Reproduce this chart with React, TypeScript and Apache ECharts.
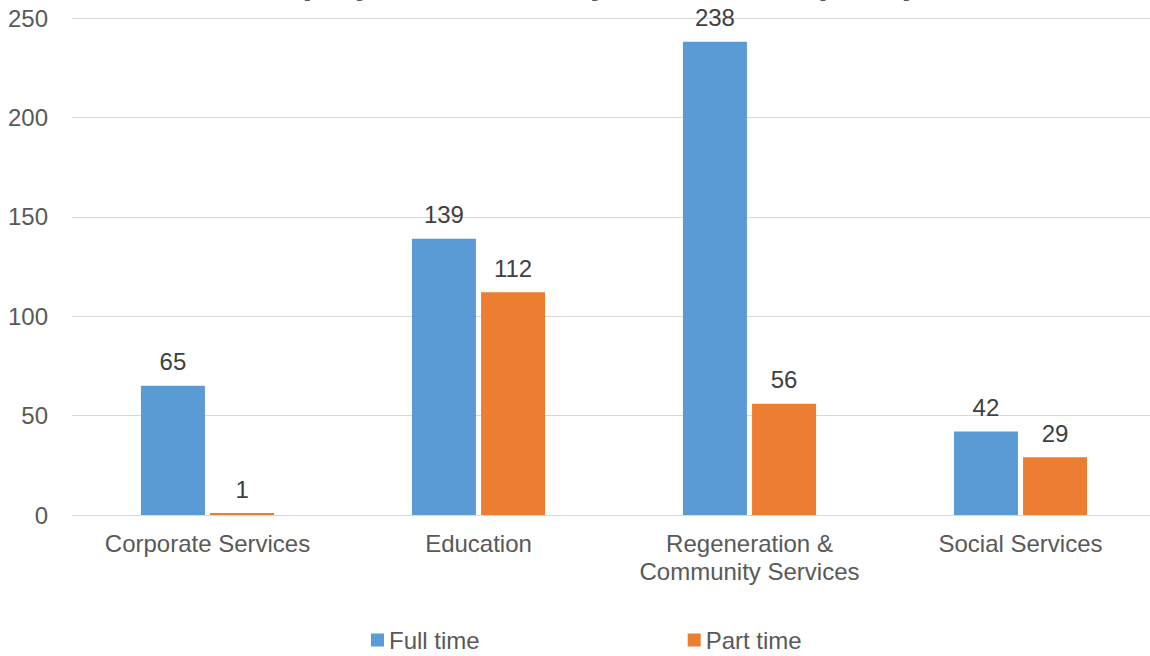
import React, { useEffect, useRef } from "react";
import * as echarts from "echarts";

const titleText = "Employees in Post by Directorate (2019)";
const categories = ["Corporate Services", "Education", "Regeneration &\nCommunity Services", "Social Services"];
const fullTime = [65, 139, 238, 42];
const partTime = [1, 112, 56, 29];
const seriesNames = ["Full time", "Part time"];
const yTicks = { min: 0, max: 250, interval: 50 };

const FONT = "'Liberation Sans', Arial, sans-serif";

export default function App() {
  const ref = useRef<HTMLDivElement>(null);
  useEffect(() => {
    if (!ref.current) return;
    const chart = echarts.init(ref.current, undefined, { renderer: "svg" });
    chart.setOption({
      animation: false,
      backgroundColor: "#ffffff",
      textStyle: { fontFamily: FONT },
      graphic: [
        {
          type: "text",
          left: 248,
          top: -36,
          style: {
            text: titleText,
            font: `bold 35px ${FONT}`,
            fill: "#595959",
          },
        },
      ],
      legend: {
        left: 371,
        top: 628,
        padding: 0,
        icon: "rect",
        itemWidth: 13,
        itemHeight: 13,
        itemGap: 208,
        textStyle: { fontSize: 24, color: "#595959", fontFamily: FONT },
        data: seriesNames,
      },
      grid: {
        left: 72,
        top: 18,
        width: 1084,
        height: 497,
        containLabel: false,
        outerBoundsMode: "none",
      },
      xAxis: {
        type: "category",
        data: categories,
        axisLine: { show: true, lineStyle: { color: "#D9D9D9", width: 1 } },
        axisTick: { show: false },
        axisLabel: {
          fontSize: 24,
          color: "#595959",
          fontFamily: FONT,
          margin: 14,
          lineHeight: 28,
          interval: 0,
        },
      },
      yAxis: {
        type: "value",
        min: yTicks.min,
        max: yTicks.max,
        interval: yTicks.interval,
        axisLine: { show: false },
        axisTick: { show: false },
        splitLine: { lineStyle: { color: "#D9D9D9", width: 1 } },
        axisLabel: { fontSize: 24, color: "#595959", fontFamily: FONT, margin: 24 },
      },
      series: [
        {
          name: seriesNames[0],
          type: "bar",
          data: fullTime,
          barWidth: 64,
          barGap: "8%",
          itemStyle: { color: "#5B9BD5" },
          label: { show: true, position: "top", distance: 12, fontSize: 24, color: "#404040", fontFamily: FONT },
        },
        {
          name: seriesNames[1],
          type: "bar",
          data: partTime,
          barWidth: 64,
          barGap: "8%",
          itemStyle: { color: "#ED7D31" },
          label: { show: true, position: "top", distance: 12, fontSize: 24, color: "#404040", fontFamily: FONT },
        },
      ],
    });
    return () => chart.dispose();
  }, []);
  return <div ref={ref} style={{ width: 1150, height: 656, position: "absolute", left: 0, top: 0 }} />;
}
